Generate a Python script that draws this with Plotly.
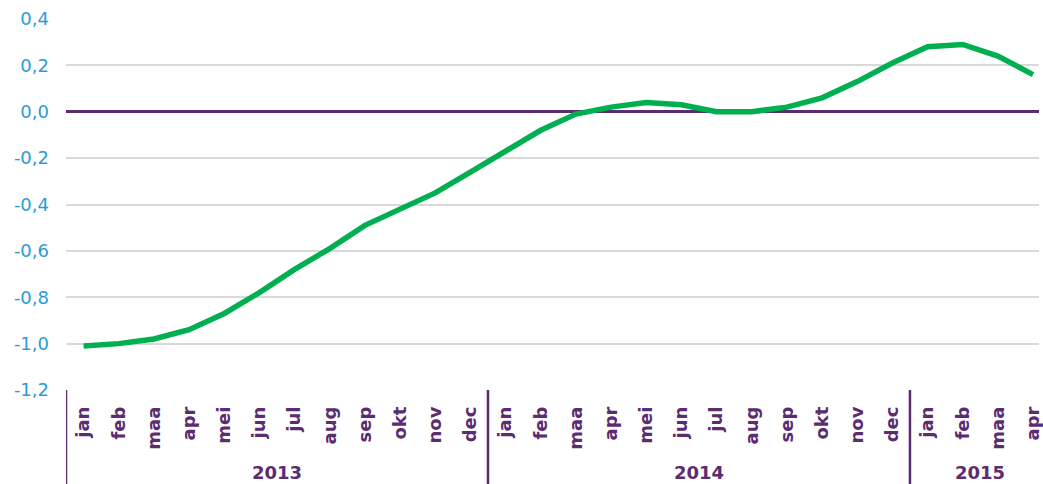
import plotly.graph_objects as go

months = ["jan", "feb", "maa", "apr", "mei", "jun", "jul", "aug", "sep", "okt", "nov", "dec",
          "jan", "feb", "maa", "apr", "mei", "jun", "jul", "aug", "sep", "okt", "nov", "dec",
          "jan", "feb", "maa", "apr"]
values = [-1.01, -1.00, -0.98, -0.94, -0.87, -0.78, -0.68, -0.59, -0.49, -0.42, -0.35, -0.26,
          -0.17, -0.08, -0.01, 0.02, 0.04, 0.03, 0.00, 0.00, 0.02, 0.06, 0.13, 0.21,
          0.28, 0.29, 0.24, 0.16]
years = ["2013", "2014", "2015"]
year_start = [0, 12, 24]
year_len = [12, 12, 4]
y_ticks = [-1.2, -1.0, -0.8, -0.6, -0.4, -0.2, 0.0, 0.2, 0.4]
y_ticktext = ["-1,2", "-1,0", "-0,8", "-0,6", "-0,4", "-0,2", "0,0", "0,2", "0,4"]

PURPLE = "#5b2c6f"
BLUE = "#2b9bd8"
GREEN = "#00b050"
FONT = "DejaVu Sans"

x = list(range(len(months)))

fig = go.Figure()
fig.add_trace(go.Scatter(x=x, y=values, mode="lines",
                         line=dict(color=GREEN, width=5.5), hoverinfo="skip"))

W, H = 1043, 484
ml, mt, mb = 66, 19, 94
plot_h = H - mt - mb
bottom_paper = -mb / plot_h

shapes = []
for s in year_start:
    shapes.append(dict(type="line", xref="x", yref="paper", x0=s - 0.5, x1=s - 0.5,
                       y0=0, y1=bottom_paper, line=dict(color=PURPLE, width=2.5)))
annotations = []
for yr, s, n in zip(years, year_start, year_len):
    annotations.append(dict(text="<b>%s</b>" % yr, xref="x", yref="paper",
                            x=s - 0.5 + n / 2, y=bottom_paper, showarrow=False,
                            font=dict(family=FONT, size=18, color=PURPLE),
                            xanchor="center", yanchor="bottom", borderpad=0))

fig.update_layout(
    width=W, height=H,
    margin=dict(l=ml, r=0, t=mt, b=mb, pad=0),
    plot_bgcolor="white", paper_bgcolor="white",
    showlegend=False,
    shapes=shapes, annotations=annotations,
    xaxis=dict(range=[-0.5, 27.17], tickmode="array", tickvals=x,
               ticktext=["<b>%s</b>" % m for m in months], tickangle=-90,
               tickfont=dict(family=FONT, size=18, color=PURPLE),
               showgrid=False, zeroline=False, showline=False, ticks="",
               ticklabelstandoff=12, ticklabeloverflow="allow", fixedrange=True),
    yaxis=dict(range=[-1.2, 0.4], tickmode="array", tickvals=y_ticks, ticktext=y_ticktext,
               tickfont=dict(family=FONT, size=18, color=BLUE),
               showgrid=True, gridcolor="#d9d9d9", gridwidth=1.5,
               zeroline=True, zerolinecolor=PURPLE, zerolinewidth=2.5,
               showline=False, ticks="", ticklabelstandoff=16, fixedrange=True),
)

fig.write_html("out.html", config={"displayModeBar": False},
               post_script="document.body.style.margin='0';document.body.style.overflow='hidden';")
